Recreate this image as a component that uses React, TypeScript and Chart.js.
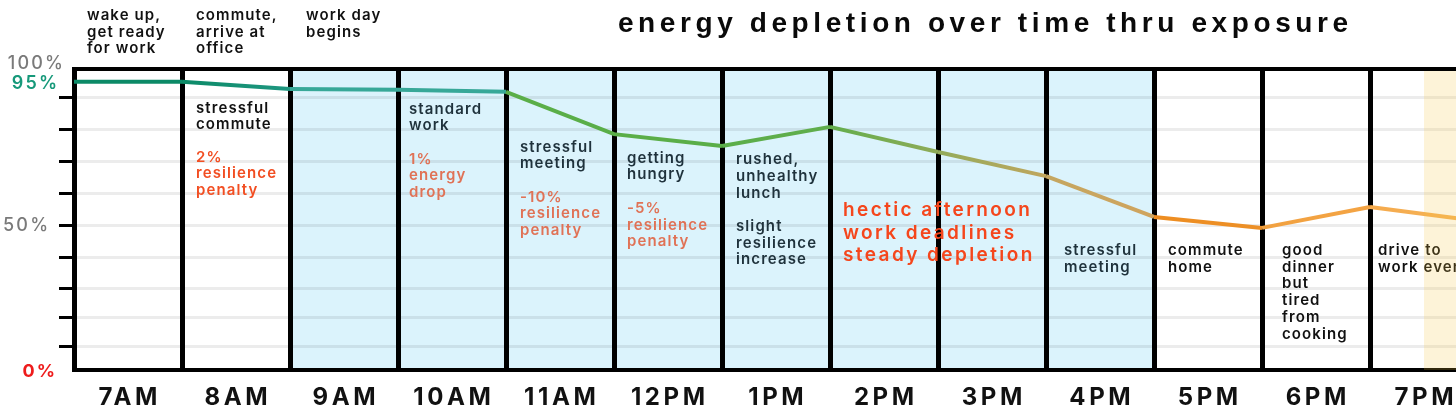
import React, { useEffect, useRef } from "react";
import { Chart, registerables } from "chart.js";

Chart.register(...registerables);

// ---------- data ----------
const hourLabels = ["7AM", "8AM", "9AM", "10AM", "11AM", "12PM", "1PM", "2PM", "3PM", "4PM", "5PM", "6PM", "7PM"];
const boundaryHours = [0, 1, 2, 3, 4, 5, 6, 7, 8, 9, 10, 11, 12, 13];
const energyValues = [99.6, 99.6, 97.1, 96.8, 96.1, 81.5, 77.4, 84.0, 75.3, 67.0, 52.9, 49.1, 56.3, 51.5];
const segmentColors: [string, string][] = [
  ["#0c8a67", "#0c8a67"],
  ["#0c8a67", "#1f9781"],
  ["#37a898", "#37a898"],
  ["#37a898", "#37a898"],
  ["#5aae48", "#5aae48"],
  ["#5aae48", "#5aae48"],
  ["#5bae4a", "#60ad4c"],
  ["#62ad4c", "#8fab58"],
  ["#93ab5a", "#c0a65e"],
  ["#c4a660", "#d0a45e"],
  ["#ee8d20", "#ec9028"],
  ["#f1a140", "#f4a444"],
  ["#f5aa4c", "#f5b55a"],
];
const yTickValues = [0, 8, 18, 28, 39, 50, 61, 72, 83, 94];
const Y_MAX = 104;
const workBand = [2, 10];
const eveningBand = [12.5, 13];
const titleText = "energy depletion over time thru exposure";
const topLabel = "100%";
const startLabel = "95%";
const midLabel = "50%";
const zeroLabel = "0%";

// ---------- annotation text ----------
const BLACK = "#111111";
const SLATE = "#1f323c";
const RED = "#f24e22";
const SALMON = "#e07256";
const NOTE_FONT = '600 15px Inter';
const HECTIC_FONT = '600 19px Inter';
const NLS = 1.1;

type Note = { band: number; dx: number; v: number; lines: string[]; color: string; font: string; ls: number; lh: number };
const notes: Note[] = [
  { band: 0, dx: 13, v: 120.9, lines: ["wake up,", "get ready", "for work"], color: BLACK, font: NOTE_FONT, ls: NLS, lh: 16.5 },
  { band: 1, dx: 14, v: 120.9, lines: ["commute,", "arrive at", "office"], color: BLACK, font: NOTE_FONT, ls: NLS, lh: 16.5 },
  { band: 2, dx: 16, v: 120.9, lines: ["work day", "begins"], color: BLACK, font: NOTE_FONT, ls: NLS, lh: 16.5 },
  { band: 1, dx: 14, v: 88.9, lines: ["stressful", "commute"], color: BLACK, font: NOTE_FONT, ls: NLS, lh: 16.5 },
  { band: 1, dx: 14, v: 72.0, lines: ["2%", "resilience", "penalty"], color: RED, font: NOTE_FONT, ls: NLS, lh: 16.5 },
  { band: 3, dx: 11, v: 88.5, lines: ["standard", "work"], color: SLATE, font: NOTE_FONT, ls: NLS, lh: 16.5 },
  { band: 3, dx: 11, v: 71.2, lines: ["1%", "energy", "drop"], color: SALMON, font: NOTE_FONT, ls: NLS, lh: 16.5 },
  { band: 4, dx: 14, v: 75.4, lines: ["stressful", "meeting"], color: SLATE, font: NOTE_FONT, ls: NLS, lh: 16.5 },
  { band: 4, dx: 14, v: 58.2, lines: ["-10%", "resilience", "penalty"], color: SALMON, font: NOTE_FONT, ls: NLS, lh: 16.5 },
  { band: 5, dx: 13, v: 71.6, lines: ["getting", "hungry"], color: SLATE, font: NOTE_FONT, ls: NLS, lh: 16.5 },
  { band: 5, dx: 13, v: 54.1, lines: ["-5%", "resilience", "penalty"], color: SALMON, font: NOTE_FONT, ls: NLS, lh: 16.5 },
  { band: 6, dx: 14, v: 71.1, lines: ["rushed,", "unhealthy", "lunch", "", "slight", "resilience", "increase"], color: SLATE, font: NOTE_FONT, ls: NLS, lh: 16.7 },
  { band: 9, dx: 18, v: 39.7, lines: ["stressful", "meeting"], color: SLATE, font: NOTE_FONT, ls: NLS, lh: 16.5 },
  { band: 10, dx: 14, v: 39.7, lines: ["commute", "home"], color: BLACK, font: NOTE_FONT, ls: NLS, lh: 16.5 },
  { band: 11, dx: 20, v: 39.7, lines: ["good", "dinner", "but", "tired", "from", "cooking"], color: BLACK, font: NOTE_FONT, ls: NLS, lh: 16.7 },
  { band: 12, dx: 8, v: 39.7, lines: ["drive to", "work event"], color: BLACK, font: NOTE_FONT, ls: NLS, lh: 16.5 },
];
const hecticNote: Note = { band: 7, dx: 13, v: 53.2, lines: ["hectic afternoon", "work deadlines", "steady depletion"], color: "#f5461c", font: HECTIC_FONT, ls: 2.4, lh: 22.7 };

function drawText(ctx: CanvasRenderingContext2D, text: string, x: number, y: number, font: string, color: string, ls: number, align: "left" | "center" | "right" = "left", baseline: CanvasTextBaseline = "alphabetic") {
  ctx.save();
  ctx.font = font;
  ctx.fillStyle = color;
  (ctx as any).letterSpacing = ls + "px";
  ctx.textAlign = "left";
  ctx.textBaseline = baseline;
  const w = ctx.measureText(text).width - ls;
  let left = x;
  if (align === "center") left = x - w / 2;
  if (align === "right") left = x - w;
  ctx.fillText(text, left, y);
  ctx.restore();
}

function drawNote(chart: any, n: Note) {
  const { ctx, scales } = chart;
  const x = scales.x.getPixelForValue(n.band) + n.dx;
  const y0 = scales.y.getPixelForValue(n.v);
  n.lines.forEach((line, i) => {
    if (line) drawText(ctx, line, x, y0 + i * n.lh, n.font, n.color, n.ls);
  });
}

const decorPlugin = {
  id: "energyDecor",
  beforeDraw(chart: any) {
    const { ctx, chartArea: a, scales } = chart;
    const x0 = scales.x.getPixelForValue(workBand[0]);
    const x1 = scales.x.getPixelForValue(workBand[1]);
    ctx.save();
    ctx.fillStyle = "#dbf3fc";
    ctx.fillRect(x0, a.top, x1 - x0, a.bottom - a.top);
    ctx.restore();
  },
  beforeDatasetsDraw(chart: any) {
    notes.forEach((n) => drawNote(chart, n));
    drawNote(chart, hecticNote);
  },
  afterDatasetsDraw(chart: any) {
    const { ctx, chartArea: a, scales } = chart;
    const x0 = scales.x.getPixelForValue(eveningBand[0]);
    const x1 = scales.x.getPixelForValue(eveningBand[1]);
    ctx.save();
    ctx.fillStyle = "rgba(245,195,60,0.2)";
    ctx.fillRect(x0, a.top, x1 - x0, a.bottom - a.top);
    ctx.restore();
  },
  afterDraw(chart: any) {
    const { ctx, chartArea: a, scales } = chart;
    // top border
    ctx.save();
    ctx.strokeStyle = "#000";
    ctx.lineWidth = 4;
    ctx.beginPath();
    ctx.moveTo(a.left - 2, a.top);
    ctx.lineTo(a.right, a.top);
    ctx.stroke();
    ctx.restore();
    // hour labels
    hourLabels.forEach((lab, i) => {
      const cx = scales.x.getPixelForValue(i + 0.5);
      drawText(ctx, lab, cx, a.bottom + 28, '700 24px Inter', "#111", 3.6, "center", "middle");
    });
    // y labels
    const yF = '500 18px Inter';
    drawText(ctx, topLabel, 63, a.top, yF, "#7a7a7a", 2.2, "right", "alphabetic");
    drawText(ctx, startLabel, 57, scales.y.getPixelForValue(energyValues[0]) + 2, '600 18px Inter', "#16997a", 2.2, "right", "middle");
    drawText(ctx, midLabel, 3, scales.y.getPixelForValue(50), yF, "#7a7a7a", 2.2, "left", "middle");
    drawText(ctx, zeroLabel, 55, scales.y.getPixelForValue(0) + 2, '700 18px Inter', "#ee1c1c", 2.2, "right", "middle");
    // title
    drawText(ctx, titleText, 983, 32, 'bold 28px "Liberation Sans"', "#0a0a0a", 4.6, "center", "alphabetic");
  },
};

export default function App() {
  const ref = useRef<HTMLCanvasElement>(null);
  useEffect(() => {
    const canvas = ref.current!;
    const g2d = canvas.getContext("2d")!;
    const segColor = (c: any) => {
      const [c0, c1] = segmentColors[c.p0DataIndex] || segmentColors[0];
      if (c0 === c1) return c0;
      const g = g2d.createLinearGradient(c.p0.x, 0, c.p1.x, 0);
      g.addColorStop(0, c0);
      g.addColorStop(1, c1);
      return g;
    };
    const chart = new Chart(canvas, {
      type: "line",
      data: {
        datasets: [
          {
            data: boundaryHours.map((h, i) => ({ x: h, y: energyValues[i] })),
            borderWidth: 4,
            pointRadius: 0,
            borderColor: segmentColors[0][0],
            tension: 0,
            segment: { borderColor: segColor },
          } as any,
        ],
      },
      options: {
        responsive: false,
        animation: false,
        devicePixelRatio: 1,
        layout: { padding: { top: 69, left: 0, right: 0, bottom: 0 } },
        plugins: { legend: { display: false }, tooltip: { enabled: false }, title: { display: false } },
        scales: {
          x: {
            type: "linear",
            min: 0,
            max: 13,
            z: 1,
            ticks: { display: false, stepSize: 1 },
            grid: { color: "#000", lineWidth: 5, drawTicks: false },
            border: { color: "#000", width: 4 },
            afterFit: (s: any) => { s.height = 49; },
          },
          y: {
            min: 0,
            max: Y_MAX,
            afterBuildTicks: (s: any) => { s.ticks = yTickValues.map((v) => ({ value: v })); },
            ticks: { display: false },
            grid: {
              color: "rgba(0,0,0,0.075)",
              lineWidth: 3,
              drawTicks: true,
              tickLength: 15,
              tickWidth: 3,
              tickColor: (c: any) => (c.tick && c.tick.value === 0 ? "rgba(0,0,0,0)" : "#000"),
            },
            border: { color: "#000", width: 4 },
            afterFit: (s: any) => { s.width = 74; },
          },
        },
      } as any,
      plugins: [decorPlugin],
    });
    return () => chart.destroy();
  }, []);
  return (
    <div style={{ position: "fixed", left: 0, top: 0, width: 1456, height: 419, overflow: "hidden", background: "#fff" }}>
      <canvas ref={ref} width={1478} height={419} style={{ display: "block" }} />
    </div>
  );
}
